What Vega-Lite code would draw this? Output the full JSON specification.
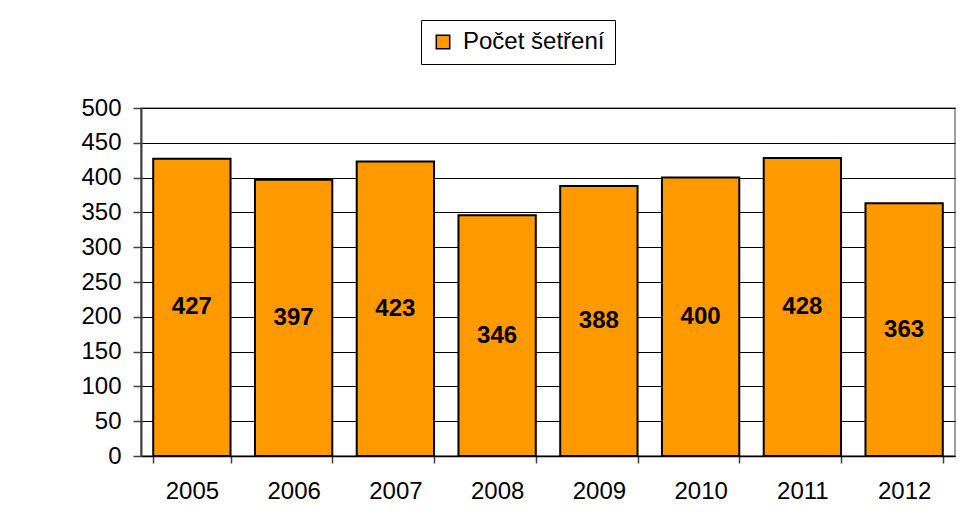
{
  "$schema": "https://vega.github.io/schema/vega-lite/v6.json",
  "width": 814,
  "height": 348,
  "autosize": "none",
  "padding": {"left": 141, "top": 108, "right": 7, "bottom": 73},
  "background": "white",
  "config": {
    "font": "Liberation Sans",
    "view": {"stroke": "#808080", "strokeWidth": 1.5}
  },
  "data": {
    "values": [
      {"rok": "2005", "serie": "Počet šetření", "pocet": 427},
      {"rok": "2006", "serie": "Počet šetření", "pocet": 397},
      {"rok": "2007", "serie": "Počet šetření", "pocet": 423},
      {"rok": "2008", "serie": "Počet šetření", "pocet": 346},
      {"rok": "2009", "serie": "Počet šetření", "pocet": 388},
      {"rok": "2010", "serie": "Počet šetření", "pocet": 400},
      {"rok": "2011", "serie": "Počet šetření", "pocet": 428},
      {"rok": "2012", "serie": "Počet šetření", "pocet": 363}
    ]
  },
  "encoding": {
    "x": {
      "field": "rok",
      "type": "nominal",
      "scale": {"paddingInner": 0.24, "paddingOuter": 0.12},
      "axis": {
        "title": null,
        "labelAngle": 0,
        "labelFontSize": 24,
        "labelColor": "black",
        "labelPadding": 16,
        "tickBand": "extent",
        "tickSize": 7,
        "tickColor": "#404040",
        "tickWidth": 1.5,
        "domainColor": "black",
        "domainWidth": 1.5,
        "grid": false
      }
    }
  },
  "layer": [
    {
      "mark": {"type": "bar", "stroke": "black", "strokeWidth": 2},
      "encoding": {
        "y": {
          "field": "pocet",
          "type": "quantitative",
          "scale": {"domain": [0, 500], "nice": false},
          "axis": {
            "title": null,
            "values": [0, 50, 100, 150, 200, 250, 300, 350, 400, 450, 500],
            "labelFontSize": 24,
            "labelColor": "black",
            "labelPadding": 12,
            "tickSize": 8,
            "tickColor": "#404040",
            "tickWidth": 1.5,
            "domainColor": "#404040",
            "domainWidth": 2,
            "grid": true,
            "gridColor": "black",
            "gridWidth": 1.2,
            "gridOpacity": 1
          }
        },
        "color": {
          "field": "serie",
          "type": "nominal",
          "scale": {"range": ["#FF9900"]},
          "legend": {
            "title": null,
            "orient": "none",
            "legendX": 280,
            "legendY": -88,
            "strokeColor": "black",
            "padding": 10,
            "labelFontSize": 24,
            "labelColor": "black",
            "labelLimit": 400,
            "symbolType": "square",
            "symbolSize": 180,
            "symbolStrokeColor": "black",
            "symbolStrokeWidth": 1.5,
            "symbolOpacity": 1,
            "labelOffset": 8
          }
        }
      }
    },
    {
      "mark": {"type": "text", "fontSize": 24, "fontWeight": "bold", "color": "black", "baseline": "middle"},
      "encoding": {
        "y": {
          "field": "pocet",
          "type": "quantitative",
          "scale": {"domain": [0, 1000], "nice": false},
          "axis": null
        },
        "text": {"field": "pocet", "type": "quantitative"}
      }
    }
  ],
  "resolve": {"scale": {"y": "independent"}}
}
